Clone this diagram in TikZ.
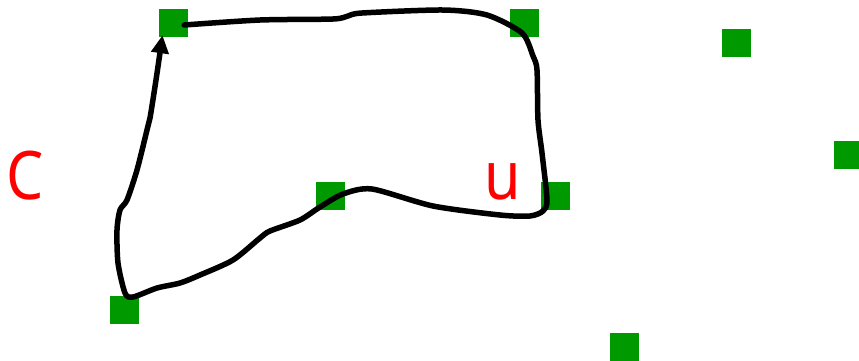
\documentclass[tikz,border=0pt]{standalone}
\usepackage{fontspec}
\setmainfont{Noto Sans}
\newfontfamily\lblfont[FakeStretch=0.88]{Noto Sans}
\usetikzlibrary{arrows.meta}
\definecolor{sqgreen}{RGB}{0,153,0}
\begin{document}
\begin{tikzpicture}[x=1pt,y=-1pt,
  sq/.style={fill=sqgreen,inner sep=0pt,minimum width=29pt,minimum height=28pt},
  lbl/.style={text=red,font=\lblfont\fontsize{67}{67}\selectfont,anchor=base,inner sep=0pt},
  curve/.style={line width=5.5pt,line join=round,line cap=round}]
\clip (0,0) rectangle (859,360);
\node[sq] (A) at (173.5,23) {};
\node[sq] (B) at (524.5,23) {};
\node[sq] (C) at (124.5,310) {};
\node[sq] (D) at (330.5,196) {};
\node[sq] (E) at (555.5,196) {};
\node[sq] (F) at (736.5,43) {};
\node[sq] (G) at (848.5,155) {};
\node[sq] (H) at (624.5,347) {};
\node[lbl] (lc) at (25,199) {C};
\node[lbl] (lu) at (503,199) {u};
\coordinate (s) at ([xshift=-4pt,yshift=-2pt]A.east);
\coordinate (t) at ([xshift=-11pt,yshift=2pt]A.south);
\draw[curve,-{Triangle[length=18pt,width=17pt]}] plot[smooth,tension=0.45] coordinates {
 (s) (260,20) (333,19) (348,16) (362,13) (443,10) (487,15) (522,33)
 (533,56) (537,70) (538,120) (542,153) (547,200) (543,211) (530,216)
 (500,215) (433,206) (372,189) (343,194) (320,207) (300,220) (270,231)
 (260,238) (233,260) (200,275) (180,283) (157,288) (133,297) (125,293)
 (118,263) (117,230) (120,210) (127,200) (137,170) (147,130) (150,118)
 (156,80) (t)};
\end{tikzpicture}
\end{document}
